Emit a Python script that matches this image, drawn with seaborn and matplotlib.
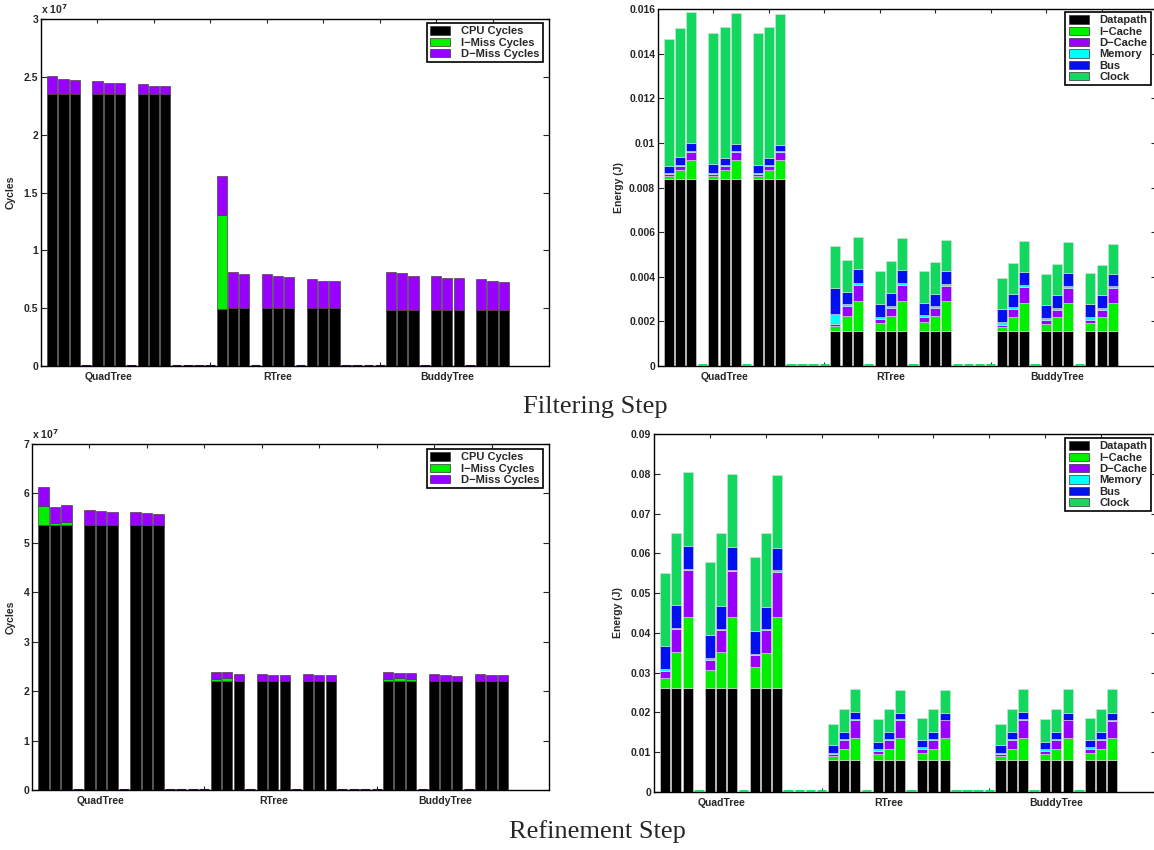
import numpy as np
import pandas as pd
import matplotlib
matplotlib.use("Agg")
import matplotlib.pyplot as plt
from matplotlib.patches import Patch
from matplotlib.ticker import FixedLocator, FuncFormatter
import seaborn as sns

# ---------------- data ----------------
groups = ["QuadTree", "RTree", "BuddyTree"]
group_centers = [6, 21, 36]

# Filtering step, cycles (units of 1e7 cycles), 27 bars
filt_cpu = [2.355] * 9 + [0.495, 0.503, 0.503, 0.503, 0.503, 0.503, 0.503, 0.503, 0.503] + [0.48] * 9
filt_imiss = [0] * 9 + [0.81, 0, 0, 0, 0, 0, 0, 0, 0] + [0] * 9
filt_dmiss = [0.155, 0.13, 0.115, 0.11, 0.095, 0.09, 0.085, 0.07, 0.065,
              0.335, 0.308, 0.291, 0.291, 0.271, 0.268, 0.251, 0.236, 0.23,
              0.331, 0.32, 0.30, 0.302, 0.282, 0.282, 0.27, 0.253, 0.248]

# Refinement step, cycles (units of 1e7 cycles)
ref_cpu = [5.36] * 9 + [2.21] * 9 + [2.21] * 9
ref_imiss = [0.39, 0.05, 0.07, 0, 0, 0, 0, 0, 0,
             0.03, 0.06, 0, 0, 0, 0, 0, 0, 0,
             0.03, 0.06, 0.03, 0, 0, 0, 0, 0, 0]
ref_dmiss = [0.39, 0.32, 0.34, 0.30, 0.28, 0.26, 0.26, 0.24, 0.22,
             0.15, 0.12, 0.13, 0.13, 0.12, 0.11, 0.13, 0.12, 0.11,
             0.15, 0.10, 0.12, 0.13, 0.12, 0.10, 0.13, 0.11, 0.11]

# Filtering step, energy (J)
fe_datapath = [0.00838] * 9 + [0.00159] * 9 + [0.00155] * 9
fe_icache = [0.00015, 0.00042, 0.00084, 0.00015, 0.00042, 0.00084, 0.00015, 0.00042, 0.00084,
             0.0002, 0.00067, 0.00134, 0.00035, 0.00067, 0.00134, 0.0004, 0.00067, 0.00134,
             0.00018, 0.00064, 0.00128, 0.00031, 0.00064, 0.00128, 0.00037, 0.00064, 0.00128]
fe_dcache = [0.00006, 0.00016, 0.00036, 0.00006, 0.00016, 0.00036, 0.00006, 0.00016, 0.00036,
             0.00011, 0.00045, 0.00072, 0.00017, 0.00034, 0.0007, 0.0002, 0.00034, 0.00067,
             0.00012, 0.00036, 0.0007, 0.00018, 0.00031, 0.00068, 0.00016, 0.00034, 0.00065]
fe_memory = [0.00005, 0.00005, 0.00006, 0.00005, 0.00005, 0.00006, 0.00005, 0.00005, 0.00006,
             0.00041, 0.00007, 0.00009, 0.00009, 0.00009, 0.00009, 0.00009, 0.00009, 0.00009,
             0.0001, 0.0001, 0.0001, 0.00009, 0.0001, 0.00009, 0.00011, 0.00009, 0.00009]
fe_bus = [0.00033, 0.00036, 0.00034, 0.00041, 0.00032, 0.0003, 0.00039, 0.00032, 0.00028,
          0.00117, 0.00055, 0.00061, 0.0006, 0.00058, 0.0006, 0.00056, 0.00055, 0.00058,
          0.00061, 0.00059, 0.00057, 0.00062, 0.0006, 0.00057, 0.00061, 0.00055, 0.00057]
fe_clock = [0.00569, 0.00577, 0.00589, 0.00588, 0.00588, 0.00588, 0.0059, 0.00585, 0.00586,
            0.00191, 0.00143, 0.00144, 0.00144, 0.00145, 0.00142, 0.0014, 0.00142, 0.00139,
            0.00138, 0.00137, 0.00138, 0.00139, 0.00138, 0.00138, 0.00137, 0.00135, 0.00135]

# Refinement step, energy (J)
re_datapath = [0.0261] * 9 + [0.0081] * 9 + [0.0081] * 9
re_icache = [0.0025, 0.0091, 0.018, 0.0045, 0.0091, 0.0179, 0.0052, 0.0089, 0.0178,
             0.0009, 0.0028, 0.0056, 0.0014, 0.0028, 0.0056, 0.0017, 0.0028, 0.0056,
             0.0009, 0.0028, 0.0056, 0.0014, 0.0028, 0.0056, 0.0017, 0.0028, 0.0056]
re_dcache = [0.0018, 0.0058, 0.0116, 0.0027, 0.0056, 0.0115, 0.0031, 0.0057, 0.0114,
             0.0006, 0.0022, 0.0045, 0.0009, 0.0022, 0.0044, 0.0011, 0.0022, 0.0043,
             0.0006, 0.0022, 0.0045, 0.0009, 0.0022, 0.0043, 0.0011, 0.0022, 0.0042]
re_memory = [0.0004, 0.0003, 0.0003, 0.0004, 0.0002, 0.0003, 0.0003, 0.0002, 0.0004,
             0.0003, 0.0003, 0.0002, 0.0003, 0.0003, 0.0002, 0.0003, 0.0003, 0.0002,
             0.0003, 0.0003, 0.0002, 0.0003, 0.0003, 0.0002, 0.0003, 0.0003, 0.0002]
re_bus = [0.006, 0.0056, 0.0059, 0.0058, 0.0058, 0.0057, 0.0057, 0.0057, 0.0057,
          0.0018, 0.0017, 0.0016, 0.0019, 0.0016, 0.0016, 0.0018, 0.0016, 0.0017,
          0.0018, 0.0017, 0.0017, 0.0019, 0.0016, 0.0017, 0.0018, 0.0016, 0.0018]
re_clock = [0.0183, 0.0181, 0.0186, 0.0184, 0.0184, 0.0185, 0.0186, 0.0184, 0.0184,
            0.0055, 0.0057, 0.0058, 0.0057, 0.0058, 0.0058, 0.0057, 0.0058, 0.0058,
            0.0055, 0.0057, 0.0058, 0.0057, 0.0058, 0.0059, 0.0057, 0.0058, 0.0059]

cycle_names = ["CPU Cycles", "I\u2212Miss Cycles", "D\u2212Miss Cycles"]
cycle_colors = ["#000000", "#00f000", "#9900ff"]
energy_names = ["Datapath", "I\u2212Cache", "D\u2212Cache", "Memory", "Bus", "Clock"]
energy_colors = ["#000000", "#00f000", "#9900ff", "#00ffff", "#0010f0", "#12d860"]

# --------------- layout helpers ---------------
# bar positions: 3 groups x 3 subgroups x 3 bars, one empty slot between
# subgroups and four empty slots between groups
bar_pos = [1 + g * 15 + s * 4 + b for g in range(3) for s in range(3) for b in range(3)]
gap_pos = [p for p in range(1, 42) if p not in bar_pos]

sns.set_style("ticks")
plt.rcParams["font.family"] = ["Liberation Sans", "DejaVu Sans"]
plt.rcParams["font.weight"] = "bold"
plt.rcParams["axes.labelweight"] = "bold"
plt.rcParams["axes.linewidth"] = 1.0
plt.rcParams["xtick.direction"] = "in"
plt.rcParams["ytick.direction"] = "in"

W, H = 1154, 850
fig = plt.figure(figsize=(W / 100, H / 100), dpi=100)


def add_ax(l, t, r, b):
    return fig.add_axes([l / W, 1 - b / H, (r - l) / W, (b - t) / H])


def stacked(ax, layers, colors, edge, lw, gap_color, gap_lw):
    bottom = np.zeros(len(bar_pos))
    for vals, col in zip(layers, colors):
        df = pd.DataFrame({"pos": bar_pos, "val": vals})
        sns.barplot(data=df, x="pos", y="val", native_scale=True, width=0.9,
                    color=col, saturation=1, errorbar=None, bottom=bottom,
                    edgecolor=edge, linewidth=lw, ax=ax)
        bottom = bottom + np.asarray(vals, dtype=float)
    gdf = pd.DataFrame({"pos": gap_pos, "val": [0.0] * len(gap_pos)})
    sns.barplot(data=gdf, x="pos", y="val", native_scale=True, width=0.86,
                color=gap_color, saturation=1, errorbar=None,
                edgecolor=gap_color, linewidth=gap_lw, ax=ax, zorder=3)


def style(ax, ymax, ystep, fmt, ylabel, ylabel_x, names, colors, anchor):
    ax.set_xlim(0, 45)
    ax.set_ylim(0, ymax)
    ax.set_yticks(np.round(np.arange(0, ymax + ystep / 2, ystep), 6))
    ax.yaxis.set_major_formatter(FuncFormatter(fmt))
    ax.set_xticks(group_centers)
    ax.set_xticklabels(groups)
    ax.xaxis.set_minor_locator(FixedLocator(list(range(5, 41, 5))))
    ax.tick_params(axis="x", which="major", length=0, pad=4, labelsize=7.5)
    ax.tick_params(axis="x", which="minor", length=3, width=0.8, top=True, bottom=True)
    ax.tick_params(axis="y", which="major", length=4, width=0.8, left=True, right=True,
                   labelsize=7.5, pad=2)
    for lab in ax.get_xticklabels() + ax.get_yticklabels():
        lab.set_fontweight("bold")
    ax.set_xlabel("")
    ax.set_ylabel(ylabel, fontsize=7.5, fontweight="bold")
    ax.yaxis.set_label_coords(ylabel_x, 0.5)
    for sp in ax.spines.values():
        sp.set_visible(True)
        sp.set_color("black")
        sp.set_linewidth(1.0)
        sp.set_zorder(2.6)
    handles = [Patch(facecolor=c, edgecolor="#333333", linewidth=0.5) for c in colors]
    leg = ax.legend(handles, names, loc="upper right", bbox_to_anchor=anchor,
                    borderaxespad=0, fancybox=False, framealpha=1, edgecolor="black",
                    prop={"size": 8, "weight": "bold"}, handlelength=1.8,
                    handleheight=0.75, labelspacing=0.12, handletextpad=1.0,
                    borderpad=0.3)
    leg.get_frame().set_linewidth(1.2)
    leg.set_zorder(5)


cyc_fmt = lambda v, p: f"{v:g}"
en_fmt = lambda v, p: f"{v:g}"

# ---- Filtering: cycles ----
ax1 = add_ax(41, 19, 549, 366)
stacked(ax1, [filt_cpu, filt_imiss, filt_dmiss], cycle_colors, "#444444", 0.5, "#2a0a3a", 2.2)
style(ax1, 3.0, 0.5, cyc_fmt, "Cycles", -0.049, cycle_names, cycle_colors,
      (1 - 6 / 508, 1 - 4 / 347))
ax1.text(0.0, 1.008, r"x 10$^{7}$", transform=ax1.transAxes, ha="left", va="bottom",
         fontsize=7.5, fontweight="bold")

# ---- Filtering: energy ----
ax2 = add_ax(658, 9, 1157, 366)
stacked(ax2, [fe_datapath, fe_icache, fe_dcache, fe_memory, fe_bus, fe_clock],
        energy_colors, "#dddddd", 0.4, energy_colors[-1], 3.5)
style(ax2, 0.016, 0.002, en_fmt, "Energy (J)", -0.068, energy_names, energy_colors,
      (1 - 6 / 499, 1 - 3 / 357))

# ---- Refinement: cycles ----
ax3 = add_ax(32, 444, 549, 790)
stacked(ax3, [ref_cpu, ref_imiss, ref_dmiss], cycle_colors, "#444444", 0.5, "#2a0a3a", 2.2)
style(ax3, 7.0, 1.0, cyc_fmt, "Cycles", -0.031, cycle_names, cycle_colors,
      (1 - 6 / 517, 1 - 5 / 346))
ax3.text(0.0, 1.008, r"x 10$^{7}$", transform=ax3.transAxes, ha="left", va="bottom",
         fontsize=7.5, fontweight="bold")

# ---- Refinement: energy ----
ax4 = add_ax(654, 434, 1157, 792)
stacked(ax4, [re_datapath, re_icache, re_dcache, re_memory, re_bus, re_clock],
        energy_colors, "#dddddd", 0.4, energy_colors[-1], 3.5)
style(ax4, 0.09, 0.01, en_fmt, "Energy (J)", -0.062, energy_names, energy_colors,
      (1 - 6 / 503, 1 - 4 / 358))

# captions
fig.text(595 / W, 1 - 407 / H, "Filtering Step", ha="center", va="center",
         family=["Liberation Serif", "DejaVu Serif"], fontsize=19, fontweight="normal")
fig.text(597 / W, 1 - 832 / H, "Refinement Step", ha="center", va="center",
         family=["Liberation Serif", "DejaVu Serif"], fontsize=19, fontweight="normal")

fig.savefig("out.png", dpi=100, facecolor="white")
